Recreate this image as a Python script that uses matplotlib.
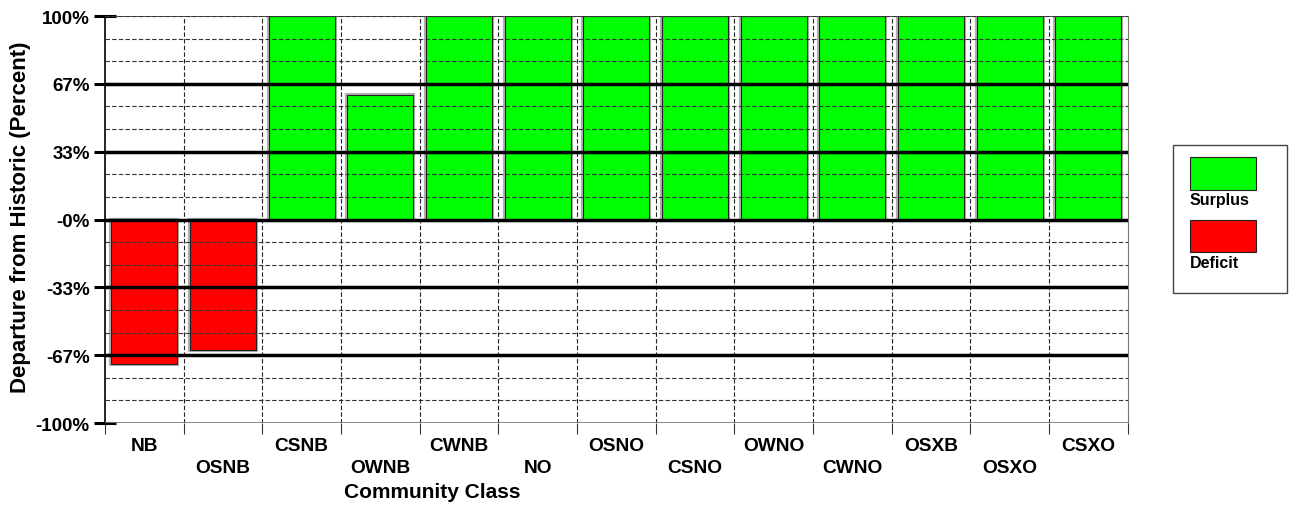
import numpy as np
import matplotlib
matplotlib.use('Agg')
import matplotlib.pyplot as plt
from matplotlib.patches import Rectangle

plt.rcParams['font.family'] = ['Liberation Sans', 'DejaVu Sans']
plt.rcParams['font.weight'] = 'bold'

# 数据
classes = ['NB', 'OSNB', 'CSNB', 'OWNB', 'CWNB', 'NO', 'OSNO',
           'CSNO', 'OWNO', 'CWNO', 'OSXB', 'OSXO', 'CSXO']
departure = [-71, -64, 100, 61, 100, 100, 100, 100, 100, 100, 100, 100, 100]
tick_vals = [-100, -200/3, -100/3, 0, 100/3, 200/3, 100]
tick_text = ['-100%', '-67%', '-33%', '-0%', '33%', '67%', '100%']

green = '#00ff00'
red = '#ff0000'

fig = plt.figure(figsize=(12.91, 5.06), dpi=100)
ax = fig.add_axes([0.0813, 0.162, 0.7922, 0.8044])

n = len(classes)
x = np.arange(n)
colors = [green if v >= 0 else red for v in departure]

# 阴影 + 柱子
ax.bar(x, departure, width=0.84, color='none', edgecolor='#b0b0b0', linewidth=3, zorder=2)
ax.bar(x, departure, width=0.84, color=colors, edgecolor='#222222', linewidth=0.8, zorder=3)

ax.set_xlim(-0.5, n - 0.5)
ax.set_ylim(-100, 100)

# 网格
for yv in np.arange(-100, 100.01, 100/9):
    ax.axhline(yv, color='#333333', linestyle=(0, (4, 2)), linewidth=0.8, zorder=4)
for xv in np.arange(0.5, n - 0.5, 1):
    ax.axvline(xv, color='#222222', linestyle=(0, (4, 2)), linewidth=0.8, zorder=4)
for yv in [-200/3, -100/3, 0, 100/3, 200/3]:
    ax.axhline(yv, color='black', linewidth=2.5, zorder=5)
ax.axhline(100, color='#333333', linewidth=1.2, zorder=5)
ax.axhline(-100, color='#777777', linewidth=1.2, zorder=5)

for s in ['top', 'bottom']:
    ax.spines[s].set_visible(False)
ax.spines['right'].set_color('#777777')
ax.spines['left'].set_linewidth(1.2)

ax.set_yticks(tick_vals)
ax.set_yticklabels(tick_text, fontsize=13.5, fontweight='bold')
ax.tick_params(axis='y', direction='inout', length=16, width=2.2, pad=3)
ax.set_xticks(np.arange(-0.5, n, 1))
ax.set_xticklabels([])
ax.tick_params(axis='x', length=8, width=0.8, color='#333333')

for i, c in enumerate(classes):
    yy = -0.055 if i % 2 == 0 else -0.11
    ax.text(i, yy, c, transform=ax.get_xaxis_transform(), ha='center', va='center',
            fontsize=13.8, fontweight='bold')

fig.text(0.335, 0.026, 'Community Class', ha='center', va='center', fontsize=15, fontweight='bold')
fig.text(0.016, 0.571, 'Departure from Historic (Percent)', ha='center', va='center',
         rotation=90, fontsize=16, fontweight='bold')

# 图例
fig.patches.append(Rectangle((1173/1291, 1-294/506), 114/1291, 148/506, transform=fig.transFigure,
                             facecolor='white', edgecolor='#444444', linewidth=1))
fig.patches.append(Rectangle((1190/1291, 1-191/506), 66/1291, 33/506, transform=fig.transFigure,
                             facecolor=green, edgecolor='#222222', linewidth=0.8))
fig.patches.append(Rectangle((1190/1291, 1-253/506), 66/1291, 32/506, transform=fig.transFigure,
                             facecolor=red, edgecolor='#222222', linewidth=0.8))
fig.text(1190/1291, 1-201/506, 'Surplus', ha='left', va='center', fontsize=11.5, fontweight='bold')
fig.text(1190/1291, 1-263/506, 'Deficit', ha='left', va='center', fontsize=11.5, fontweight='bold')

plt.savefig('out.png', dpi=100)
